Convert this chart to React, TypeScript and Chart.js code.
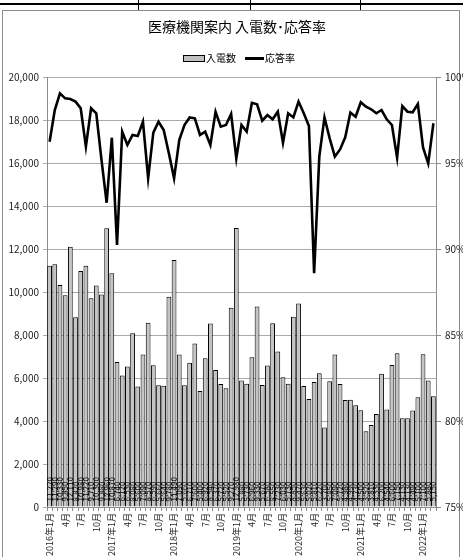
import React, { useEffect, useRef } from "react";
import { Chart, registerables } from "chart.js";

Chart.register(...registerables);

const chartTitle = "医療機関案内 入電数･応答率";
const seriesNames = ["入電数", "応答率"];

const categories = [
  "2016年1月", "2月", "3月", "4月", "5月", "6月", "7月", "8月", "9月", "10月", "11月", "12月",
  "2017年1月", "2月", "3月", "4月", "5月", "6月", "7月", "8月", "9月", "10月", "11月", "12月",
  "2018年1月", "2月", "3月", "4月", "5月", "6月", "7月", "8月", "9月", "10月", "11月", "12月",
  "2019年1月", "2月", "3月", "4月", "5月", "6月", "7月", "8月", "9月", "10月", "11月", "12月",
  "2020年1月", "2月", "3月", "4月", "5月", "6月", "7月", "8月", "9月", "10月", "11月", "12月",
  "2021年1月", "2月", "3月", "4月", "5月", "6月", "7月", "8月", "9月", "10月", "11月", "12月",
  "2022年1月", "2月", "3月",
];

// 入電数 (calls received)
const callCounts = [
  11220, 11290, 10330, 9850, 12110, 8820, 10980, 11220, 9710, 10300, 9880, 12960,
  10870, 6740, 6120, 6530, 8080, 5600, 7090, 8570, 6590, 5660, 5640, 9780,
  11490, 7090, 5660, 6710, 7600, 5400, 6920, 8540, 6370, 5720, 5520, 9270,
  12980, 5880, 5730, 6960, 9330, 5670, 6580, 8550, 7230, 6030, 5730, 8850,
  9470, 5630, 5020, 5810, 6220, 3700, 5850, 7090, 5720, 4980, 4990, 4730,
  4500, 3520, 3810, 4330, 6200, 4540, 6600, 7150, 4130, 4130, 4490, 5100,
  7100, 5880, 5150,
];

// 応答率 (answer rate, %)
const answerRates = [
  96.24, 98.08, 99.05, 98.76, 98.72, 98.57, 98.18, 95.95, 98.18, 97.89, 95.2, 92.69,
  96.47, 90.23, 96.82, 96.05, 96.63, 96.57, 97.4, 94.11, 96.76, 97.4, 96.92, 95.56,
  94.11, 96.34, 97.21, 97.65, 97.6, 96.63, 96.82, 96.05, 97.98, 97.11, 97.21, 97.85,
  95.27, 97.21, 96.82, 98.5, 98.41, 97.46, 97.79, 97.54, 97.98, 96.18, 97.89, 97.65,
  98.57, 97.89, 97.15, 88.59, 95.37, 97.65, 96.43, 95.37, 95.79, 96.49, 97.93, 97.69,
  98.53, 98.27, 98.12, 97.89, 98.08, 97.54, 97.21, 95.31, 98.31, 97.98, 97.95, 98.43,
  95.91, 94.98, 97.31,
];

const leftAxis = [0, 20000, 2000];
const rightAxis = [75, 100, 5];
const shownMonths = ["1月", "4月", "7月", "10月"];

const FONT = "'Noto Sans CJK JP', 'Noto Sans', sans-serif";

export default function App() {
  const ref = useRef<HTMLCanvasElement | null>(null);

  useEffect(() => {
    document.body.style.margin = "0";
    const canvas = ref.current;
    if (!canvas) return;

    const headerPlugin = {
      id: "header",
      afterDraw(chart: any) {
        const ctx = chart.ctx;
        ctx.save();
        ctx.fillStyle = "#000";
        ctx.textBaseline = "middle";
        ctx.textAlign = "center";
        ctx.font = `14px ${FONT}`;
        ctx.fillText(chartTitle, 237, 27);
        // legend
        ctx.font = `10px ${FONT}`;
        ctx.textAlign = "left";
        ctx.fillStyle = "#c0c0c0";
        ctx.fillRect(184, 56, 20, 5);
        ctx.strokeStyle = "#000";
        ctx.lineWidth = 1;
        ctx.strokeRect(183.5, 55.5, 21, 6);
        ctx.fillStyle = "#000";
        ctx.fillText(seriesNames[0], 206, 58.5);
        ctx.beginPath();
        ctx.lineWidth = 3;
        ctx.moveTo(245, 58.5);
        ctx.lineTo(264, 58.5);
        ctx.stroke();
        ctx.fillText(seriesNames[1], 265, 58.5);
        ctx.restore();
      },
    };

    const barLabelPlugin = {
      id: "barLabels",
      afterDatasetDraw(chart: any, args: any) {
        if (args.index !== 0) return;
        const ctx = chart.ctx;
        const meta = chart.getDatasetMeta(0);
        ctx.save();
        ctx.font = `8px ${FONT}`;
        ctx.fillStyle = "#000";
        ctx.textAlign = "left";
        ctx.textBaseline = "middle";
        meta.data.forEach((bar: any, i: number) => {
          ctx.save();
          ctx.translate(bar.x, bar.base - 5);
          ctx.rotate(-Math.PI / 2);
          ctx.fillText(callCounts[i].toLocaleString("en-US"), 0, 0);
          ctx.restore();
        });
        ctx.restore();
      },
    };

    const chart = new Chart(canvas, {
      type: "bar",
      data: {
        labels: categories,
        datasets: [
          {
            type: "bar",
            label: seriesNames[0],
            data: callCounts,
            yAxisID: "y",
            backgroundColor: "#c4c4c4",
            borderColor: "#000",
            borderWidth: 1,
            barPercentage: 0.92,
            categoryPercentage: 1,
            order: 2,
          },
          {
            type: "line",
            label: seriesNames[1],
            data: answerRates,
            yAxisID: "y1",
            borderColor: "#000",
            backgroundColor: "#000",
            borderWidth: 2.6,
            pointRadius: 0,
            tension: 0,
            order: 1,
          } as any,
        ],
      },
      options: {
        responsive: false,
        animation: false,
        layout: { padding: { left: 4, top: 77, right: 0, bottom: 0 } },
        plugins: {
          legend: { display: false },
          title: { display: false },
          tooltip: { enabled: false },
        },
        scales: {
          x: {
            offset: true,
            grid: {
              display: true,
              drawOnChartArea: false,
              tickLength: 4,
              color: "#8c8c8c",
              offset: true,
            },
            border: { display: true, color: "#8c8c8c" },
            ticks: {
              autoSkip: false,
              maxRotation: 90,
              minRotation: 90,
              padding: 2,
              color: "#222",
              font: { family: FONT, size: 9 },
              callback: (_v: any, i: number) => {
                const lbl = categories[i];
                return shownMonths.some((m) => lbl.endsWith(m) && (lbl === m || lbl.includes("年"))) ? lbl : "";
              },
            },
            afterFit: (s: any) => {
              s.height = 50;
            },
          },
          y: {
            position: "left",
            min: leftAxis[0],
            max: leftAxis[1],
            grid: { color: "#ababab", tickLength: 4, lineWidth: 1 },
            border: { display: true, color: "#8c8c8c" },
            ticks: {
              stepSize: leftAxis[2],
              padding: 4,
              color: "#222",
              font: { family: FONT, size: 10 },
              callback: (v: any) => Number(v).toLocaleString("en-US"),
            },
            afterFit: (s: any) => {
              s.width = 43;
            },
          },
          y1: {
            position: "right",
            min: rightAxis[0],
            max: rightAxis[1],
            grid: { drawOnChartArea: false, tickLength: 5, color: "#8c8c8c" },
            border: { display: true, color: "#8c8c8c" },
            ticks: {
              stepSize: rightAxis[2],
              padding: 4,
              color: "#222",
              font: { family: FONT, size: 10 },
              callback: (v: any) => `${v}%`,
            },
            afterFit: (s: any) => {
              s.width = 27;
            },
          },
        },
      },
      plugins: [headerPlugin, barLabelPlugin],
    });

    return () => chart.destroy();
  }, []);

  return (
    <div style={{ position: "absolute", left: 0, top: 0, width: 463, height: 557, overflow: "hidden", background: "#fff" }}>
      {/* fragment of the table row above the chart */}
      <div style={{ position: "absolute", left: 0, top: 3, width: 463, height: 2, background: "#000" }} />
      <div style={{ position: "absolute", left: 138, top: 0, width: 1, height: 10, background: "#000" }} />
      <div style={{ position: "absolute", left: 250, top: 0, width: 1, height: 10, background: "#000" }} />
      <div style={{ position: "absolute", left: 360, top: 0, width: 1, height: 10, background: "#000" }} />
      {/* chart frame */}
      <div style={{ position: "absolute", left: 2, top: 10, width: 458, height: 560, border: "1px solid #8c8c8c", boxSizing: "border-box" }} />
      <canvas ref={ref} width={463} height={557} style={{ position: "absolute", left: 0, top: 0, display: "block" }} />
    </div>
  );
}
